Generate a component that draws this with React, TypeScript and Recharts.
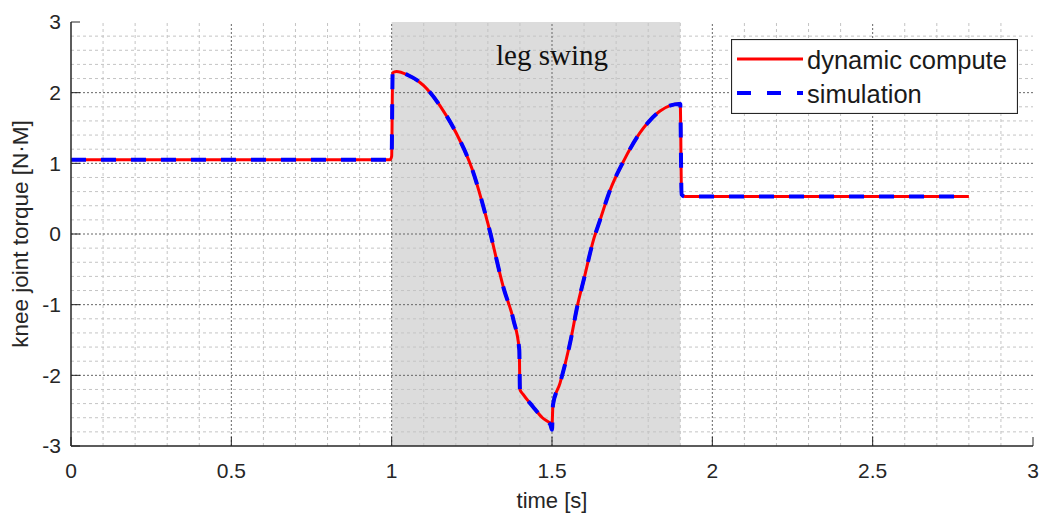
import React from 'react';
import {
  LineChart,
  Line,
  XAxis,
  YAxis,
  ReferenceArea,
  ReferenceLine,
  Legend,
} from 'recharts';

// time [s]
const time = [
  0, 0.995, 1.0, 1.003, 1.015, 1.05, 1.1, 1.15, 1.2, 1.25, 1.3, 1.35, 1.38, 1.398,
  1.4, 1.41, 1.44, 1.47, 1.495, 1.5, 1.503, 1.525, 1.556, 1.58, 1.6, 1.629, 1.65,
  1.681, 1.722, 1.774, 1.8, 1.837, 1.87, 1.895, 1.9, 1.904, 1.915, 2.8,
];

// knee joint torque [N·M]
const dynamicCompute = [
  1.05, 1.05, 1.1, 2.28, 2.3, 2.25, 2.1, 1.82, 1.44, 0.93, 0.15, -0.78, -1.22, -1.64,
  -2.2, -2.27, -2.44, -2.6, -2.68, -2.7, -2.42, -2.11, -1.55, -1.0, -0.63, -0.09, 0.2,
  0.62, 1.02, 1.43, 1.58, 1.74, 1.82, 1.84, 1.84, 0.56, 0.53, 0.53,
];

const simulation = [
  1.05, 1.05, 1.1, 2.28, 2.3, 2.25, 2.1, 1.82, 1.44, 0.93, 0.15, -0.78, -1.22, -1.64,
  -2.2, -2.27, -2.44, -2.6, -2.7, -2.77, -2.42, -2.11, -1.55, -1.0, -0.63, -0.09, 0.2,
  0.62, 1.02, 1.43, 1.58, 1.74, 1.82, 1.84, 1.84, 0.56, 0.53, 0.53,
];

const xTicks = [0, 0.5, 1, 1.5, 2, 2.5, 3];
const yTicks = [-3, -2, -1, 0, 1, 2, 3];
const xMinor = [
  0.1, 0.2, 0.3, 0.4, 0.6, 0.7, 0.8, 0.9, 1.1, 1.2, 1.3, 1.4, 1.6, 1.7, 1.8, 1.9,
  2.1, 2.2, 2.3, 2.4, 2.6, 2.7, 2.8, 2.9,
];
const yMinor = [
  -2.8, -2.6, -2.4, -2.2, -1.8, -1.6, -1.4, -1.2, -0.8, -0.6, -0.4, -0.2,
  0.2, 0.4, 0.6, 0.8, 1.2, 1.4, 1.6, 1.8, 2.2, 2.4, 2.6, 2.8,
];

const swingStart = 1.0;
const swingEnd = 1.9;

const data = time.map((t, i) => ({
  t,
  dynamic: dynamicCompute[i],
  sim: simulation[i],
}));

const AXIS = '#262626';
const FONT = '"Liberation Sans", Arial, sans-serif';

const LegendBox = () => (
  <svg width={287} height={75} style={{ display: 'block' }}>
    <rect x={0.5} y={0.5} width={286} height={74} fill="#fff" stroke={AXIS} strokeWidth={1.2} />
    <line x1={6} x2={72} y1={20} y2={20} stroke="#ff0000" strokeWidth={3} />
    <text x={76} y={30} fontSize={25.5} fill="#1a1a1a" fontFamily={FONT}>dynamic compute</text>
    <line x1={6} x2={72} y1={54} y2={54} stroke="#0000ff" strokeWidth={4} strokeDasharray="14 16" />
    <text x={76} y={64} fontSize={25.5} fill="#1a1a1a" fontFamily={FONT}>simulation</text>
  </svg>
);

export default function App() {
  const inner = (v: number, lo: number, hi: number) => v > lo && v < hi;
  return (
    <div style={{ position: 'absolute', left: 0, top: 0, width: 1042, height: 515, background: '#fff', fontFamily: FONT }}>
      <LineChart
        width={1042}
        height={515}
        data={data}
        margin={{ top: 22, right: 9, bottom: 0, left: 0 }}
      >
        <XAxis
          dataKey="t"
          type="number"
          domain={[0, 3]}
          ticks={xTicks}
          height={69}
          tickSize={-9}
          tickMargin={26}
          tick={{ fill: AXIS, fontSize: 21 }}
          axisLine={{ stroke: AXIS, strokeWidth: 1.5 }}
          tickLine={{ stroke: AXIS }}
          label={{ value: 'time [s]', position: 'insideBottom', offset: 7, fill: AXIS, fontSize: 22 }}
        />
        <XAxis
          xAxisId="top"
          orientation="top"
          type="number"
          domain={[0, 3]}
          ticks={xTicks}
          height={0}
          tickSize={-9}
          tick={false}
          axisLine={{ stroke: AXIS, strokeWidth: 1.5 }}
          tickLine={{ stroke: AXIS }}
        />
        <YAxis
          type="number"
          domain={[-3, 3]}
          ticks={yTicks}
          width={71}
          tickSize={-9}
          tickMargin={19}
          tick={{ fill: AXIS, fontSize: 21 }}
          axisLine={{ stroke: AXIS, strokeWidth: 1.5 }}
          tickLine={{ stroke: AXIS }}
          label={{
            value: 'knee joint torque [N·M]',
            angle: -90,
            position: 'insideLeft',
            offset: 20,
            fill: AXIS,
            fontSize: 22.5,
            style: { textAnchor: 'middle' },
          }}
        />
        <YAxis
          yAxisId="right"
          orientation="right"
          type="number"
          domain={[-3, 3]}
          ticks={yTicks}
          width={0}
          tickSize={-9}
          tick={false}
          axisLine={{ stroke: AXIS, strokeWidth: 1.5 }}
          tickLine={{ stroke: AXIS }}
        />

        <ReferenceArea x1={swingStart} x2={swingEnd} y1={-3} y2={3} fill="#dcdcdc" fillOpacity={1} stroke="none" />

        {xMinor.map((v) => (
          <ReferenceLine key={`xm${v}`} x={v} stroke="#c4c4c4" strokeWidth={1} strokeDasharray="3 3" />
        ))}
        {yMinor.map((v) => (
          <ReferenceLine key={`ym${v}`} y={v} stroke="#c4c4c4" strokeWidth={1} strokeDasharray="3 3" />
        ))}
        {xTicks.filter((v) => inner(v, 0, 3)).map((v) => (
          <ReferenceLine key={`xM${v}`} x={v} stroke="#666" strokeWidth={1} strokeDasharray="2 2" />
        ))}
        {yTicks.filter((v) => inner(v, -3, 3)).map((v) => (
          <ReferenceLine key={`yM${v}`} y={v} stroke="#666" strokeWidth={1} strokeDasharray="2 2" />
        ))}

        <ReferenceLine
          x={1.5}
          stroke="none"
          label={{
            value: 'leg swing',
            position: 'insideTop',
            offset: 22,
            fill: '#111',
            fontSize: 29,
            fontFamily: '"Liberation Serif", "Times New Roman", serif',
          }}
        />

        <Line
          type="monotone"
          dataKey="dynamic"
          stroke="#ff0000"
          strokeWidth={3}
          dot={false}
          isAnimationActive={false}
        />
        <Line
          type="monotone"
          dataKey="sim"
          stroke="#0000ff"
          strokeWidth={4}
          strokeDasharray="15 15"
          dot={false}
          isAnimationActive={false}
        />

        <Legend
          layout="horizontal"
          verticalAlign="middle"
          align="center"
          content={() => <LegendBox />}
          wrapperStyle={{ position: 'absolute', left: 731, top: 39, width: 287, height: 75 }}
        />
      </LineChart>
    </div>
  );
}
